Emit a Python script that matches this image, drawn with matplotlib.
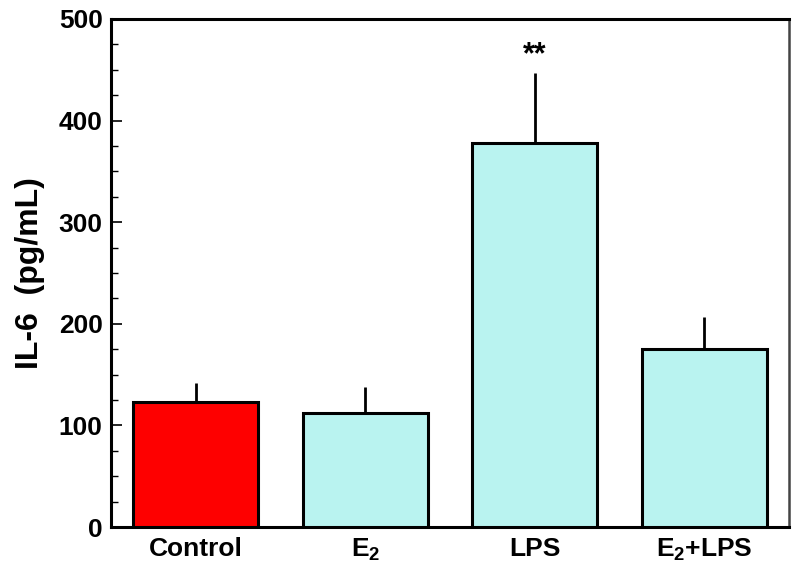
import matplotlib
matplotlib.use("Agg")
import matplotlib.pyplot as plt
from matplotlib.ticker import MultipleLocator

plt.rcParams['font.family'] = ['Liberation Sans', 'DejaVu Sans']
plt.rcParams['mathtext.fontset'] = 'custom'
plt.rcParams['mathtext.rm'] = 'Liberation Sans:bold'
plt.rcParams['mathtext.bf'] = 'Liberation Sans:bold'
plt.rcParams['mathtext.it'] = 'Liberation Sans:bold'
plt.rcParams['mathtext.default'] = 'bf'

categories = ["Control", "E$_2$", "LPS", "E$_2$+LPS"]
means = [122.6, 112.7, 377.7, 174.8]
errors = [19.3, 25.2, 69.0, 31.5]
colors = ["#fe0000", "#b9f3f0", "#b9f3f0", "#b9f3f0"]
annotations = ["", "", "**", ""]
yticks = [0, 100, 200, 300, 400, 500]

fig = plt.figure(figsize=(8, 5.78), dpi=100)
ax = fig.add_axes([0.13875, 0.0882, 0.8475, 0.879])

x = list(range(len(categories)))
ax.bar(x, means, width=0.74, color=colors, edgecolor='black', linewidth=2.2, zorder=3)
ax.errorbar(x, means, yerr=[[0]*len(errors), errors], fmt='none', ecolor='black',
            elinewidth=2.0, capsize=0, zorder=2)
for xi, m, e, a in zip(x, means, errors, annotations):
    if a:
        ax.text(xi, m + e + 18, a, ha='center', va='center', fontsize=22,
                fontweight='bold', color='black')

ax.set_xlim(-0.5, 3.5)
ax.set_ylim(0, 500)
ax.set_yticks(yticks)
ax.yaxis.set_minor_locator(MultipleLocator(25))
ax.set_xticks(x)
ax.set_xticklabels(categories, fontsize=19, fontweight='bold')
ax.set_yticklabels([str(t) for t in yticks], fontsize=19, fontweight='bold')
ax.tick_params(axis='y', which='major', direction='in', length=8, width=1.2, pad=6)
ax.tick_params(axis='y', which='minor', direction='in', length=5, width=1.0)
ax.tick_params(axis='x', which='major', length=0, pad=7)
ax.set_ylabel("IL-6  (pg/mL)", fontsize=23, fontweight='bold', labelpad=10)

for s in ['left', 'bottom', 'top']:
    ax.spines[s].set_linewidth(2.2)
ax.spines['right'].set_linewidth(1.8)
ax.spines['right'].set_color('#444444')

fig.savefig("out.png", dpi=100)
